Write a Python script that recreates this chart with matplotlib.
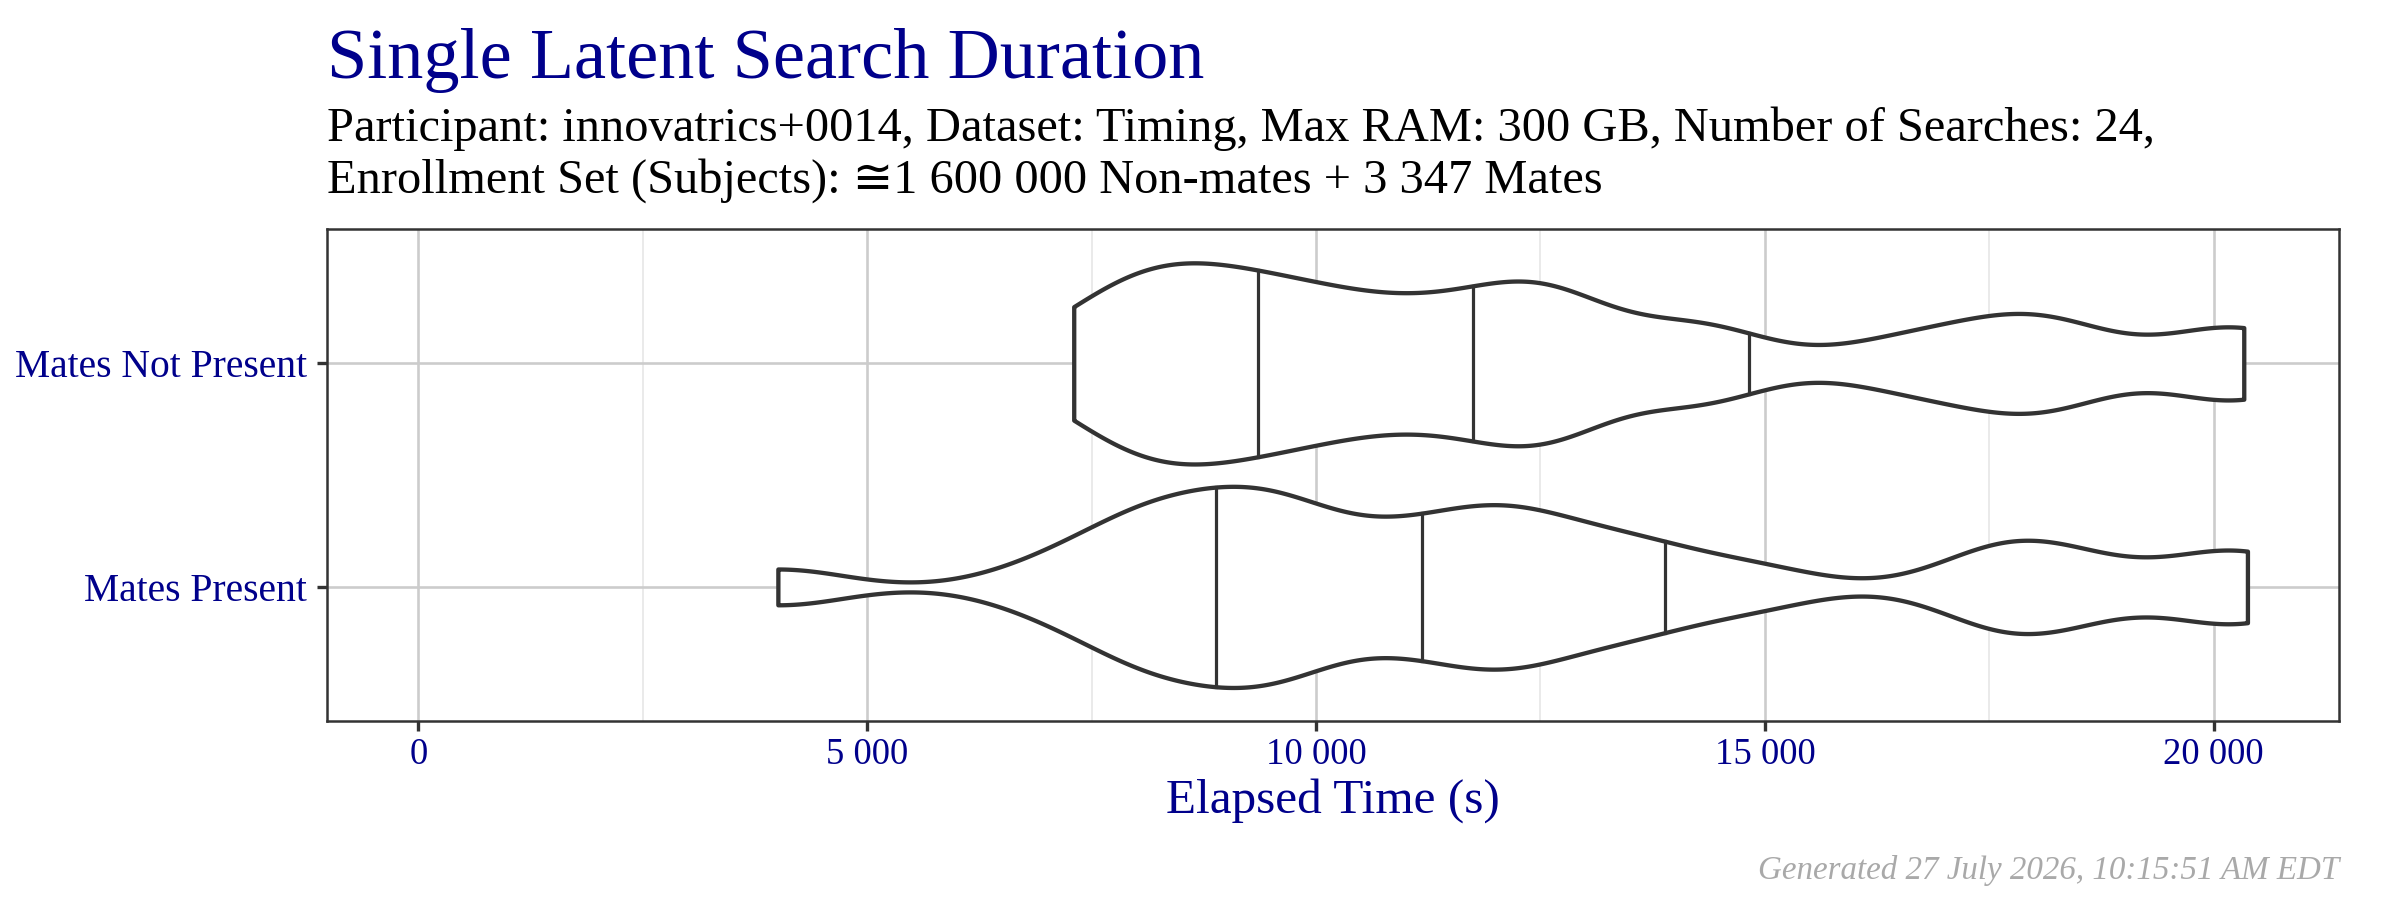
import matplotlib
matplotlib.use('Agg')
import matplotlib.pyplot as plt
from matplotlib import cbook, mlab
import numpy as np

# elapsed time per search (s)
matesPresent = [4004, 7004, 7904, 8054, 8304, 8804, 9104, 9579, 9654, 9679, 10754, 11029,
                11704, 11979, 12304, 12504, 13429, 13679, 14879, 17554, 17779, 18529, 20129, 20376]
matesNotPresent = [7300, 7775, 8050, 8325, 8600, 9000, 9175, 9850, 9875, 10500, 11050, 11500,
                   12125, 12500, 12550, 12850, 14175, 14400, 16425, 17375, 18025, 18325, 20125, 20335]
categories = ['Mates Present', 'Mates Not Present']
quartiles = [[8889, 11181, 13889], [9355, 11743, 14821]]

xTicks = [0, 5000, 10000, 15000, 20000]
xTickLabels = ['0', '5 000', '10 000', '15 000', '20 000']
xMinorTicks = [2500, 7500, 12500, 17500]

title = 'Single Latent Search Duration'
subtitleLines = ['Participant: innovatrics+0014, Dataset: Timing, Max RAM: 300 GB, Number of Searches: 24,',
                 'Enrollment Set (Subjects): \u22451 600 000 Non-mates + 3 347 Mates']
footer = 'Generated 27 July 2026, 10:15:51 AM EDT'

bandwidth = 750
navy = '#00008B'
dark = '#333333'

plt.rcParams['font.family'] = ['Liberation Serif', 'DejaVu Serif', 'DejaVu Sans']


def kdeMethod(x, coords):
    kde = mlab.GaussianKDE(x, bw_method=lambda k: bandwidth / np.std(x, ddof=1))
    return kde.evaluate(coords)


def plotViolins(ax, groups, positions):
    stats = cbook.violin_stats(groups, kdeMethod, points=600)
    parts = ax.violin(stats, positions=positions, orientation='horizontal', widths=0.9,
                      showextrema=False)
    for body in parts['bodies']:
        body.set_facecolor('white')
        body.set_edgecolor(dark)
        body.set_linewidth(3.1)
        body.set_alpha(1)
        body.set_zorder(3)
    for st, pos, qs in zip(stats, positions, quartiles):
        vals = np.asarray(st['vals'])
        for q in qs:
            half = 0.45 * np.interp(q, st['coords'], vals) / vals.max()
            ax.plot([q, q], [pos - half, pos + half], '-', color=dark, lw=2.3, zorder=4)


fig = plt.figure(figsize=(24, 9), dpi=100)
ax = fig.add_axes([0.13625, 0.19889, 0.83833, 0.54633])

positions = [1, 2]
plotViolins(ax, [matesPresent, matesNotPresent], positions)

ax.set_xlim(-1019, 21396)
ax.set_ylim(0.4, 2.6)
ax.set_xticks(xTicks)
ax.set_xticklabels(xTickLabels)
ax.set_xticks(xMinorTicks, minor=True)
ax.set_yticks(positions)
ax.set_yticklabels(categories)

ax.grid(True, which='major', color='#CCCCCC', lw=1.9, zorder=0)
ax.grid(True, which='minor', axis='x', color='#E6E6E6', lw=1.2, zorder=0)
ax.set_axisbelow(True)
for sp in ax.spines.values():
    sp.set_color(dark)
    sp.set_linewidth(1.8)

ax.tick_params(which='major', length=7.2, width=2.4, color=dark, labelcolor=navy)
ax.tick_params(axis='x', pad=5, labelsize=26.5)
ax.tick_params(axis='y', pad=7, labelsize=28.5)
ax.tick_params(which='minor', length=0)
ax.set_xlabel('Elapsed Time (s)', fontsize=35.5, color=navy, labelpad=4)

fig.text(0.13625, 0.913, title, fontsize=52, color=navy, ha='left', va='baseline')
fig.text(0.13625, 0.8433, subtitleLines[0], fontsize=34.8, color='black', ha='left', va='baseline')
fig.text(0.13625, 0.7859, subtitleLines[1], fontsize=34.8, color='black', ha='left', va='baseline')
fig.text(0.97458, 0.0233, footer, fontsize=23.8, color='#A9A9A9', style='italic',
         ha='right', va='baseline')

fig.savefig('out.png', dpi=100)
